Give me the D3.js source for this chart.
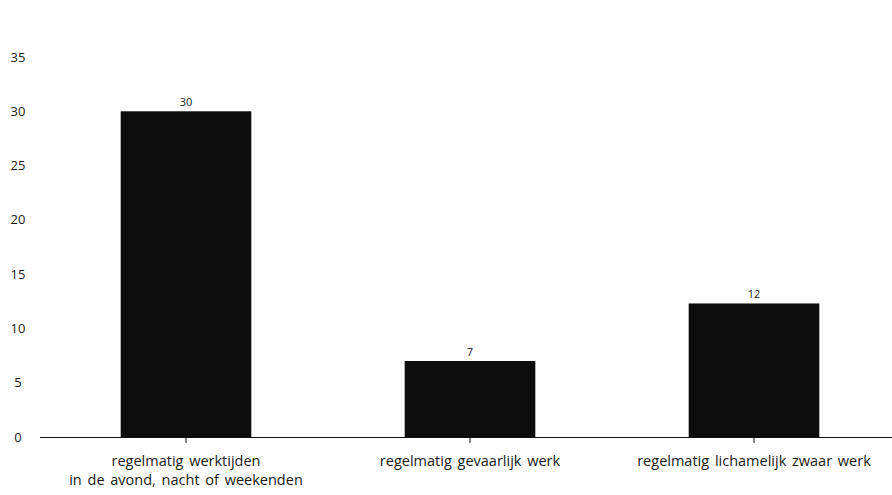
<!DOCTYPE html>
<html>
<head>
  <meta charset="UTF-8">
  <title>Werkomstandigheden</title>
  <style>
    body { margin: 0; background: #fff; }
    svg text { font-family: "Open Sans", Lato, sans-serif; fill: #1a1a1a; }
  </style>
</head>
<body>
  <svg id="chart" width="892" height="495"></svg>
  <script src="https://d3js.org/d3.v7.min.js"></script>
  <script>
    var categories = [
      ["regelmatig werktijden", "in de avond, nacht of weekenden"],
      ["regelmatig gevaarlijk werk"],
      ["regelmatig lichamelijk zwaar werk"]
    ];
    var values = [30, 7, 12.3];
    var valueLabels = ["30", "7", "12"];
    var yTicks = [0, 5, 10, 15, 20, 25, 30, 35];

    var svg = d3.select("#chart");

    var x = d3.scaleBand()
      .domain(d3.range(categories.length))
      .range([44, 896])
      .paddingInner(0.54)
      .paddingOuter(0.27);

    var y = d3.scaleLinear()
      .domain([0, 35])
      .range([437, 57]);

    // y tick labels (no axis line)
    svg.append("g")
      .selectAll("text")
      .data(yTicks)
      .enter().append("text")
        .attr("x", 18)
        .attr("y", function(d) { return y(d); })
        .attr("dy", "0.35em")
        .attr("text-anchor", "middle")
        .style("font-size", "13px")
        .text(function(d) { return d; });

    // bars
    svg.append("g")
      .selectAll("rect")
      .data(values)
      .enter().append("rect")
        .attr("x", function(d, i) { return x(i); })
        .attr("y", function(d) { return y(d); })
        .attr("width", x.bandwidth())
        .attr("height", function(d) { return y(0) - y(d); })
        .attr("fill", "#0d0d0d");

    // value labels
    svg.append("g")
      .selectAll("text")
      .data(values)
      .enter().append("text")
        .attr("x", function(d, i) { return x(i) + x.bandwidth() / 2; })
        .attr("y", function(d) { return y(d) - 5; })
        .attr("text-anchor", "middle")
        .style("font-size", "11px")
        .text(function(d, i) { return valueLabels[i]; });

    // baseline + ticks
    svg.append("line")
      .attr("x1", 40).attr("x2", 892)
      .attr("y1", y(0) + 0.5).attr("y2", y(0) + 0.5)
      .attr("stroke", "#111").attr("stroke-width", 1);

    svg.append("g")
      .selectAll("line")
      .data(values)
      .enter().append("line")
        .attr("x1", function(d, i) { return x(i) + x.bandwidth() / 2; })
        .attr("x2", function(d, i) { return x(i) + x.bandwidth() / 2; })
        .attr("y1", y(0))
        .attr("y2", y(0) + 6)
        .attr("stroke", "#111");

    // category labels
    var cat = svg.append("g")
      .selectAll("text")
      .data(categories)
      .enter().append("text")
        .attr("x", function(d, i) { return x(i) + x.bandwidth() / 2; })
        .attr("y", 466)
        .attr("text-anchor", "middle")
        .style("font-size", "14.5px")
        .style("word-spacing", "2px");

    cat.selectAll("tspan")
      .data(function(d) { return d; })
      .enter().append("tspan")
        .attr("x", function() { return d3.select(this.parentNode).attr("x"); })
        .attr("dy", function(d, i) { return i === 0 ? 0 : 19; })
        .text(function(d) { return d; });
  </script>
</body>
</html>
